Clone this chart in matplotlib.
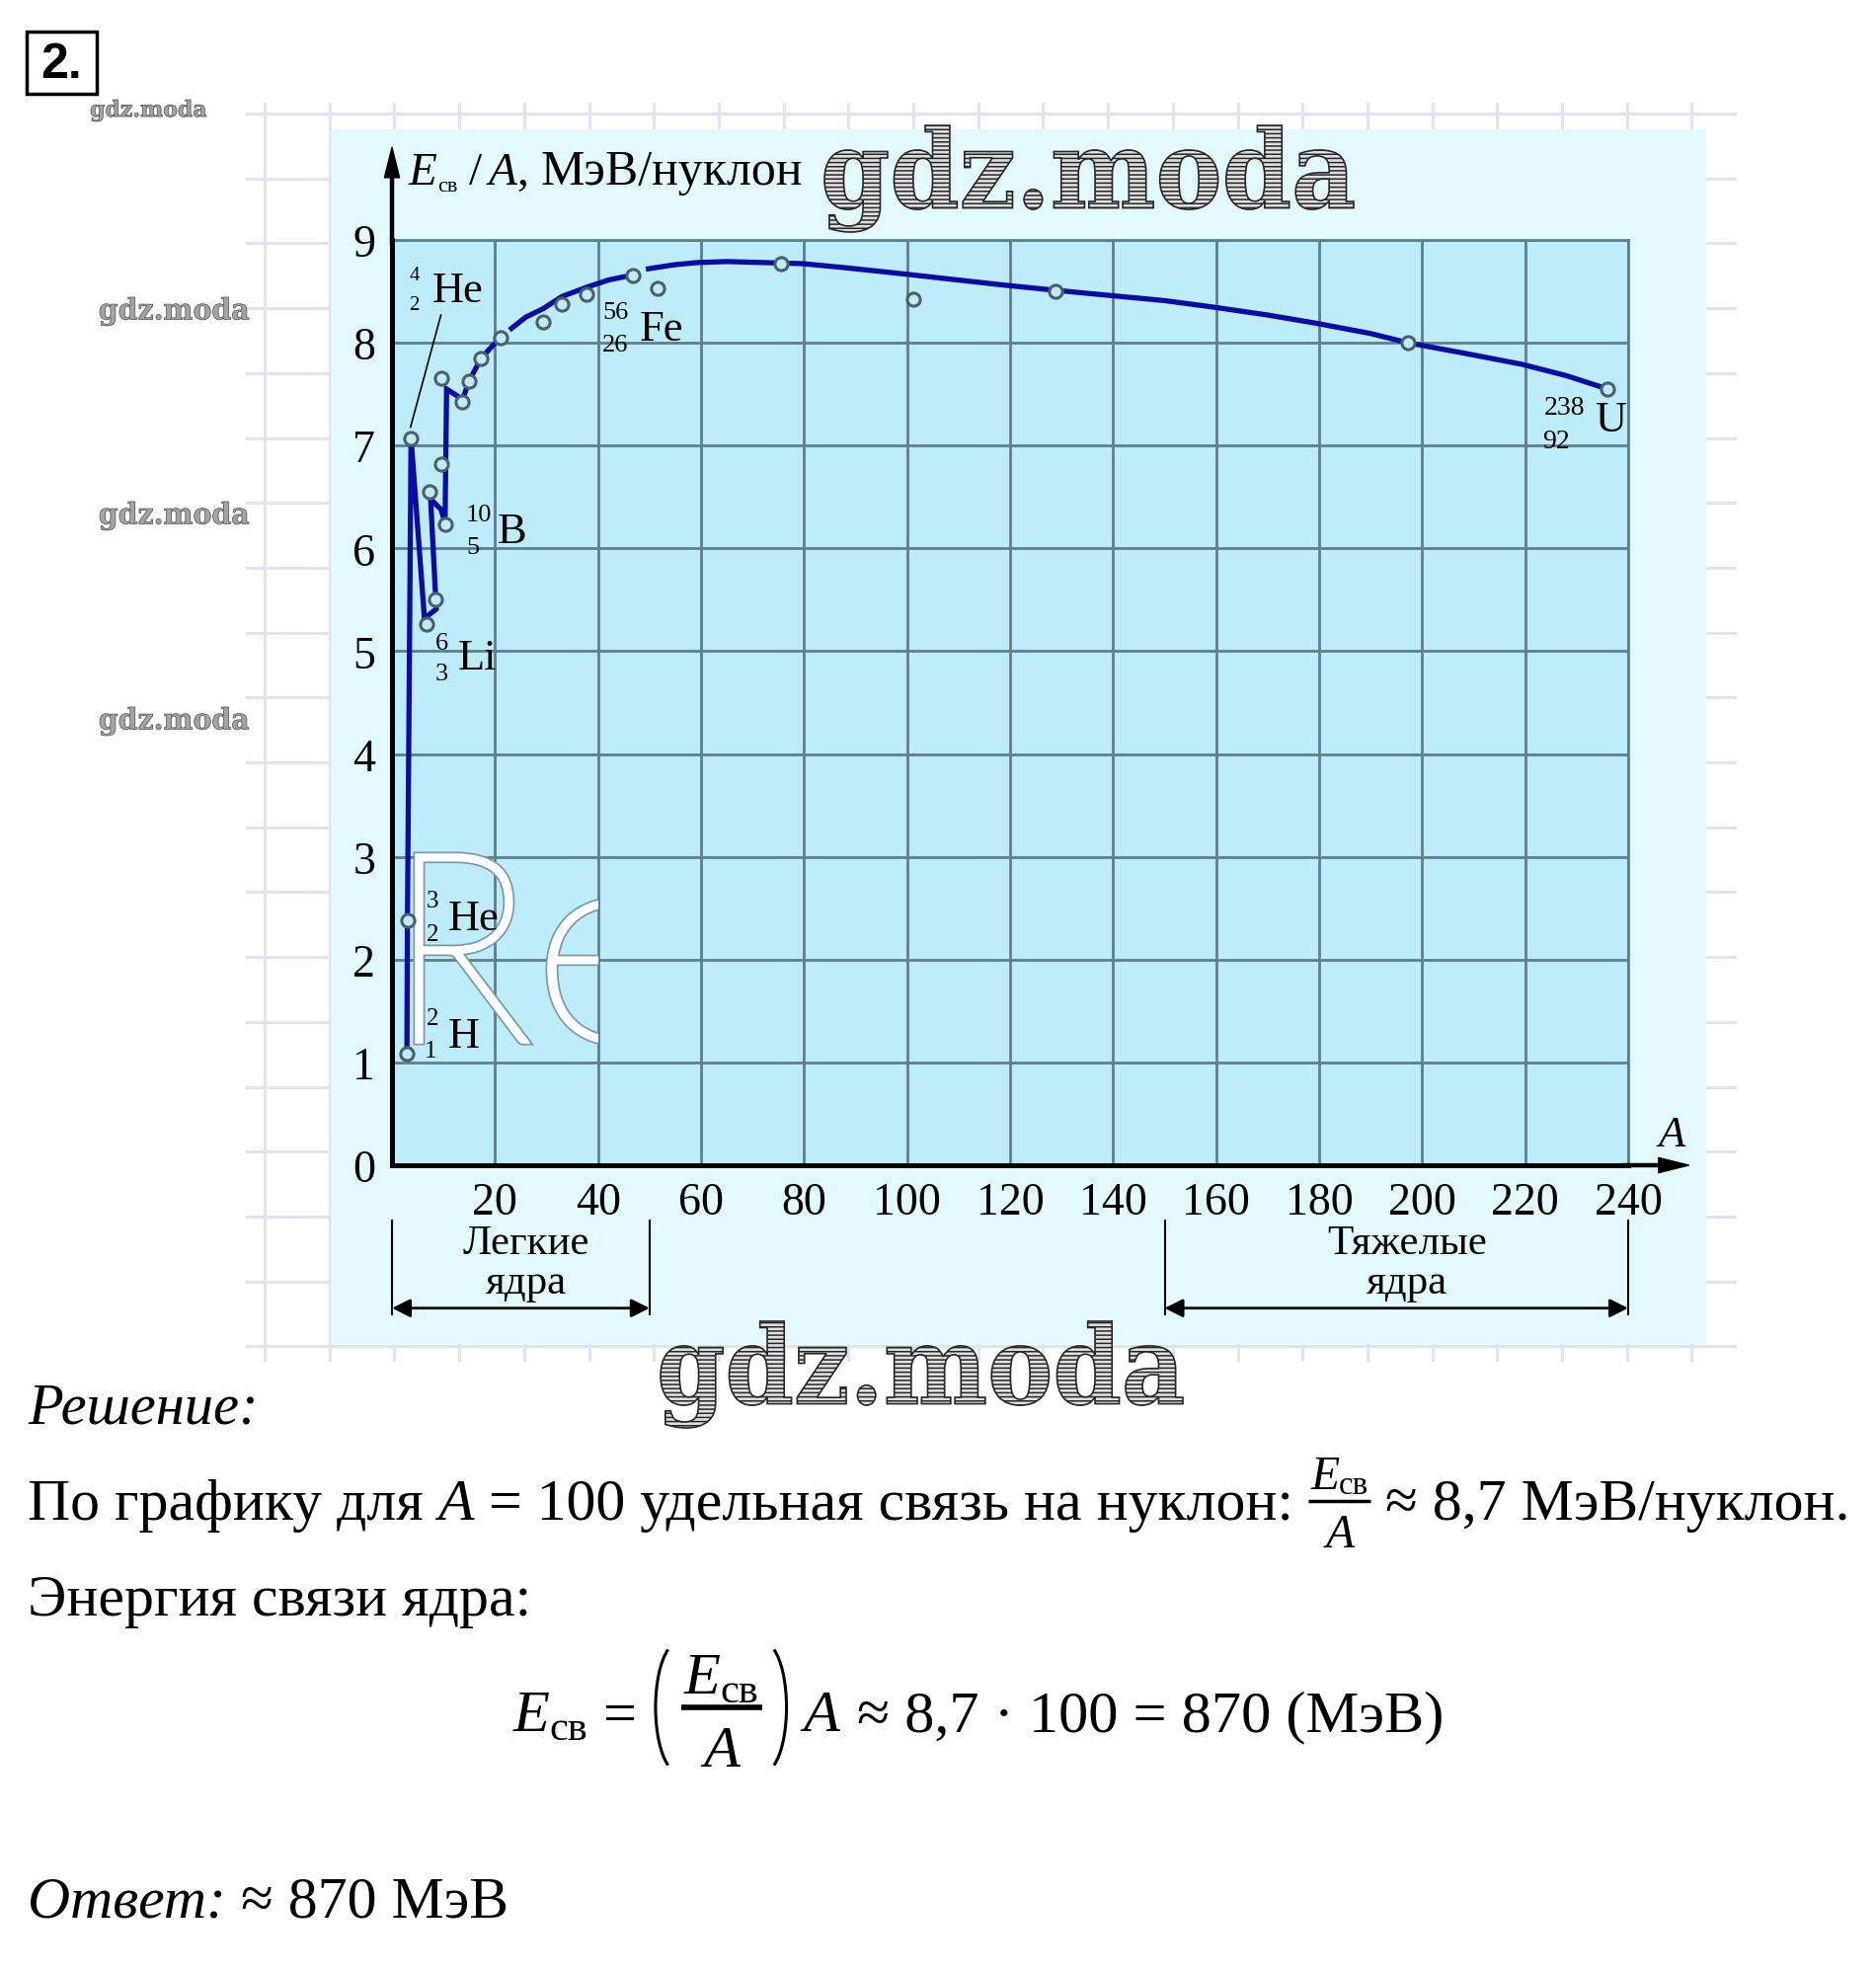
import matplotlib
matplotlib.use("Agg")
import numpy as np
import matplotlib.pyplot as plt
from matplotlib.patches import Rectangle, PathPatch, Arc
from matplotlib.textpath import TextPath
from matplotlib.font_manager import FontProperties
from matplotlib.transforms import Affine2D

# ---- values (A, E/A in MeV/nucleon) ----
# zigzag through the light nuclei
light_A = [2.9, 3.0, 3.7, 6.3, 8.6, 7.5, 9.5, 10.3, 10.6, 13.7, 15.0, 17.3, 21.0]
light_E = [1.09, 2.38, 7.07, 5.32, 5.41, 6.48, 6.38, 6.25, 7.55, 7.45, 7.63, 7.85, 8.05]
# smooth curve, two pieces (broken at the Fe point)
curve1_A = [23.2, 26.0, 29.3, 33.0, 37.8, 42.0, 46.8]
curve1_E = [8.14, 8.25, 8.33, 8.45, 8.54, 8.61, 8.66]
curve2_A = [49.8, 55.0, 59.3, 65.0, 72.0, 79.6, 88.0, 99.3, 110.0, 119.0, 128.9, 139.4,
            150.0, 159.0, 170.0, 179.4, 190.0, 197.2, 208.0, 219.4, 228.0, 236.0]
curve2_E = [8.72, 8.76, 8.78, 8.79, 8.78, 8.77, 8.73, 8.67, 8.61, 8.56, 8.51, 8.46,
            8.41, 8.35, 8.27, 8.19, 8.09, 8.00, 7.90, 7.79, 7.68, 7.55]
# measured nuclei (hollow circles)
pts_A = [2.9, 3.0, 3.6, 6.65, 8.4, 7.2, 9.5, 10.35, 9.65, 13.7, 15.0, 17.3, 21.0,
         29.3, 33.0, 37.8, 46.8, 51.6, 75.6, 101.2, 128.9, 197.2, 236.0]
pts_E = [1.09, 2.38, 7.07, 5.26, 5.50, 6.55, 6.82, 6.23, 7.66, 7.42, 7.63, 7.85, 8.05,
         8.20, 8.38, 8.47, 8.65, 8.53, 8.77, 8.42, 8.50, 8.00, 7.55]
# nuclide labels: mass number, charge number, symbol
nuc_mass = ["4", "56", "10", "6", "3", "2", "238"]
nuc_charge = ["2", "26", "5", "3", "2", "1", "92"]
nuc_sym = ["He", "Fe", "B", "Li", "He", "H", "U"]
x_ticks = list(range(20, 241, 20))
y_ticks = list(range(0, 10))

# label layout (A, E) for mass / charge / symbol, digit size
nuc_pos = [((4.3, 8.66), (4.3, 8.37), (12.7, 8.51), 15),
           ((43.4, 8.30), (43.4, 7.98), (52.3, 8.14), 19),
           ((16.9, 6.33), (15.8, 6.01), (23.3, 6.17), 19),
           ((9.65, 5.08), (9.65, 4.78), (16.5, 4.94), 19),
           ((7.9, 2.57), (7.9, 2.25), (15.9, 2.40), 18),
           ((7.9, 1.43), (7.5, 1.11), (14.0, 1.26), 18),
           ((227.7, 7.37), (226.1, 7.05), (236.5, 7.25), 20)]

SERIF = "Liberation Serif"
PLOT_BG = "#bdedfb"
GRID = "#5e7e8b"
BLUE = "#0b0ba6"

fig = plt.figure(figsize=(19, 19.99), dpi=100)
R = fig.canvas.get_renderer()

# background axes in pixel units (y grows downwards)
bg = fig.add_axes([0, 0, 1, 1])
bg.set_xlim(0, 1900)
bg.set_ylim(1999, 0)
bg.axis("off")

# faint lavender squared paper
for k in range(23):
    x = 268 + 65.7 * k
    bg.plot([x, x], [106, 1378], color="#e2e2f6", lw=2.2, zorder=0.5)
for k in range(20):
    y = 116 + 65.7 * k
    bg.plot([250, 1757], [y, y], color="#e2e2f6", lw=2.2, zorder=0.5)
bg.add_patch(Rectangle((335, 132), 1393, 1230, facecolor="#e2faff", edgecolor="none", zorder=1))

# "2." box
bg.add_patch(Rectangle((27, 33), 71, 63, facecolor="none", edgecolor="k", lw=2.5, zorder=2))
bg.text(62, 66, "2.", ha="center", va="center", fontsize=36, weight="bold",
        family="Liberation Sans", zorder=3)


def text_path(s, family, weight, x0, y0, x1, y1):
    # glyph outline stretched into the pixel box (x0, y0)-(x1, y1)
    fp = FontProperties(family=family, weight=weight)
    tp = TextPath((0, 0), s, size=100, prop=fp)
    ext = tp.get_extents()
    tr = Affine2D().translate(-ext.x0, -ext.y1).scale((x1 - x0) / ext.width,
                                                      -(y1 - y0) / ext.height).translate(x0, y0)
    return tr.transform_path(tp)


def watermark(x0, y0, x1, y1, hatch=True, lw=1.2):
    path = text_path("gdz.moda", "DejaVu Serif", "bold", x0, y0, x1, y1)
    if hatch:
        bg.add_patch(PathPatch(path, facecolor="#e0e0e0", edgecolor="#262626", lw=lw,
                               hatch="----", zorder=10))
    else:
        bg.add_patch(PathPatch(path, facecolor="#a4a4a4", edgecolor="#4a4a4a", lw=lw, zorder=10))


plt.rcParams["hatch.linewidth"] = 1.1
watermark(835, 128, 1371, 236)
watermark(669, 1339, 1198, 1447)
watermark(92, 102, 209, 124, hatch=False, lw=0.5)
for yy in (302, 509, 717):
    watermark(101, yy, 252, yy + 29, hatch=False, lw=0.5)

# ---- chart axes ----
ax = fig.add_axes([397 / 1900, (1999 - 1181) / 1999, 1252 / 1900, 937 / 1999])
ax.set_facecolor(PLOT_BG)
ax.set_xlim(0, 240)
ax.set_ylim(0, 9)
ax.set_xticks([0] + x_ticks)
ax.set_xticklabels([""] + [str(v) for v in x_ticks])
ax.set_yticks(y_ticks)
ax.set_yticklabels([str(v) for v in y_ticks])
ax.grid(True, color=GRID, lw=2)
ax.set_axisbelow(True)
ax.tick_params(length=0, labelsize=33, pad=12)
for lab in ax.get_xticklabels() + ax.get_yticklabels():
    lab.set_family(SERIF)
for s in ("top", "right"):
    ax.spines[s].set_color(GRID)
    ax.spines[s].set_linewidth(2)
for s in ("left", "bottom"):
    ax.spines[s].set_color("k")
    ax.spines[s].set_linewidth(3.6)
    ax.spines[s].set_zorder(5)

# axis arrows
ax.annotate("", xy=(0, 1.1), xytext=(0, 0.995), xycoords="axes fraction",
            arrowprops=dict(width=2.2, headwidth=11, headlength=22, color="k"),
            annotation_clip=False)
ax.annotate("", xy=(1.049, 0), xytext=(0.995, 0), xycoords="axes fraction",
            arrowprops=dict(width=2.2, headwidth=11, headlength=22, color="k"),
            annotation_clip=False)
ax.text(1.035, 0.033, "A", transform=ax.transAxes, fontsize=32, style="italic",
        family=SERIF, ha="center", va="center")

# "Re" watermark inside the chart, cut at the A = 40 grid line
re_clip = Rectangle((397, 244), 40 * 1252 / 240, 937, transform=bg.transData)
for ch, box in (("R", (423, 868, 532, 1055)), ("e", (557, 913, 690, 1057))):
    path = text_path(ch, "Lato", "light", *box)
    for ec, lw, z in (("#7d98a3", 6.5, 2.4), ("white", 4.0, 2.5)):
        p = PathPatch(path, facecolor="white", edgecolor=ec, lw=lw,
                      transform=bg.transData, zorder=z)
        ax.add_artist(p)
        p.set_clip_path(re_clip)

# data
ax.plot(light_A, light_E, color=BLUE, lw=3.8, zorder=3, solid_joinstyle="miter")
ax.plot(curve1_A, curve1_E, color=BLUE, lw=3.8, zorder=3)
ax.plot(curve2_A, curve2_E, color=BLUE, lw=3.8, zorder=3)
ax.plot(pts_A, pts_E, "o", ms=9.5, mfc=PLOT_BG, mec="#4e5e66", mew=2.2, zorder=4, clip_on=False)
ax.plot([3.6, 9.5], [7.18, 8.27], color="k", lw=1.2, zorder=3)

for m, z, s, (pm, pz, ps, fs) in zip(nuc_mass, nuc_charge, nuc_sym, nuc_pos):
    ax.text(*pm, m, fontsize=fs, family=SERIF, ha="center", va="center", zorder=6)
    ax.text(*pz, z, fontsize=fs, family=SERIF, ha="center", va="center", zorder=6)
    ax.text(*ps, s, fontsize=32, family=SERIF, ha="center", va="center", zorder=6)

# light / heavy nuclei brackets
for (a0, a1), name in (((0, 50), "Легкие"), ((150, 240), "Тяжелые")):
    for a in (a0, a1):
        ax.plot([a, a], [-0.54, -1.45], color="k", lw=1.5, clip_on=False)
    ax.annotate("", xy=(a0, -1.39), xytext=(a1, -1.39), xycoords="data",
                arrowprops=dict(arrowstyle="<|-|>", color="k", lw=2, mutation_scale=28,
                                shrinkA=0, shrinkB=0),
                annotation_clip=False)
    xc = (a0 + a1) / 2 + (1 if a0 == 0 else 2)
    ax.text(xc, -0.76, name, fontsize=31, family=SERIF, ha="center", va="center")
    ax.text(xc, -1.14, "ядра", fontsize=31, family=SERIF, ha="center", va="center")


# ---- text helpers (pixel units on bg) ----
def runs(x, y, items):
    ts = []
    x0 = x
    for s, kw, dy, gap in items:
        t = bg.text(x, y + dy, s, ha="left", va="baseline", **kw)
        ts.append(t)
        x += t.get_window_extent(R).width + gap
    return ts, x - x0


def shift(ts, dx):
    for t in ts:
        px, py = t.get_position()
        t.set_x(px + dx)


def fraction(x, ybar, num, den, yn, yd, pad, lw):
    nts, nw = runs(x, yn, num)
    dts, dw = runs(x, yd, den)
    w = max(nw, dw) + 2 * pad
    shift(nts, (w - nw) / 2)
    shift(dts, (w - dw) / 2)
    ln, = bg.plot([x, x + w], [ybar, ybar], color="k", lw=lw, solid_capstyle="butt")
    return w, nts + dts + [ln]


def st(fs, italic=False):
    d = dict(family=SERIF, fontsize=fs, color="k")
    if italic:
        d["style"] = "italic"
    return d


def line1(fs):
    sp = 0.25 * fs * 100 / 72
    arts = []
    ts, w = runs(28, 1539, [("По графику для", st(fs), 0, sp),
                            ("A", st(fs, True), 0, sp),
                            ("= 100 удельная связь на нуклон:", st(fs), 0, sp)])
    arts += ts
    x = 28 + w
    fw, fa = fraction(x, 1521,
                      [("E", st(fs * 0.8, True), 0, 0), ("св", st(fs * 0.55), 5, 0)],
                      [("A", st(fs * 0.8, True), 0, 0)],
                      1508, 1567, 2, 2.5)
    arts += fa
    x += fw + sp
    ts, w = runs(x, 1539, [("≈ 8,7 МэВ/нуклон.", st(fs), 0, 0)])
    arts += ts
    return x + w, arts


end, arts = line1(40)
for a in arts:
    a.remove()
FS = 40 * (1865 - 28 - 60) / (end - 28 - 60)
line1(FS)

runs(28, 1442, [("Решение:", st(FS * 0.98, True), 0, 0)])
runs(28, 1636, [("Энергия связи ядра:", st(FS), 0, 0)])


def formula(fs):
    sp = 0.25 * fs * 100 / 72
    arts = []
    ts, w = runs(520, 1753, [("E", st(fs, True), 0, 0), ("св", st(fs * 0.7), 9, sp),
                             ("=", st(fs), 0, sp + 4)])
    arts += ts
    x = 520 + w
    lp = Arc((x + 23, 1730), 46, 131, theta1=100, theta2=260, color="k", lw=2.2)
    bg.add_patch(lp)
    arts.append(lp)
    x += 26
    fw, fa = fraction(x, 1730,
                      [("E", st(fs, True), 0, 0), ("св", st(fs * 0.7), 9, 0)],
                      [("A", st(fs, True), 0, 0)],
                      1715, 1789, 3, 4)
    arts += fa
    x += fw + 6
    rp = Arc((x - 4, 1730), 46, 131, theta1=-80, theta2=80, color="k", lw=2.2)
    bg.add_patch(rp)
    arts.append(rp)
    x += 36
    ts, w = runs(x, 1753, [("A", st(fs, True), 0, sp + 2),
                           ("≈ 8,7 · 100 = 870 (МэВ)", st(fs), 0, 0)])
    arts += ts
    return x + w, arts


end, arts = formula(FS * 1.1)
for a in arts:
    a.remove()
FS2 = FS * 1.1 * (1482 - 520 - 320) / (end - 520 - 320)
formula(FS2)

runs(28, 1942, [("Ответ:", st(FS, True), 0, 0.25 * FS * 100 / 72),
                ("≈ 870 МэВ", st(FS), 0, 0)])

# y axis title
runs(414, 187, [("E", st(34, True), 0, 0), ("св", st(16), 7, 12),
                ("/", st(34), 0, 6), ("A", st(34, True), 0, 0),
                (",", st(34), 0, 12), ("МэВ/нуклон", st(36), 0, 0)])

fig.savefig("out.png", dpi=100)
